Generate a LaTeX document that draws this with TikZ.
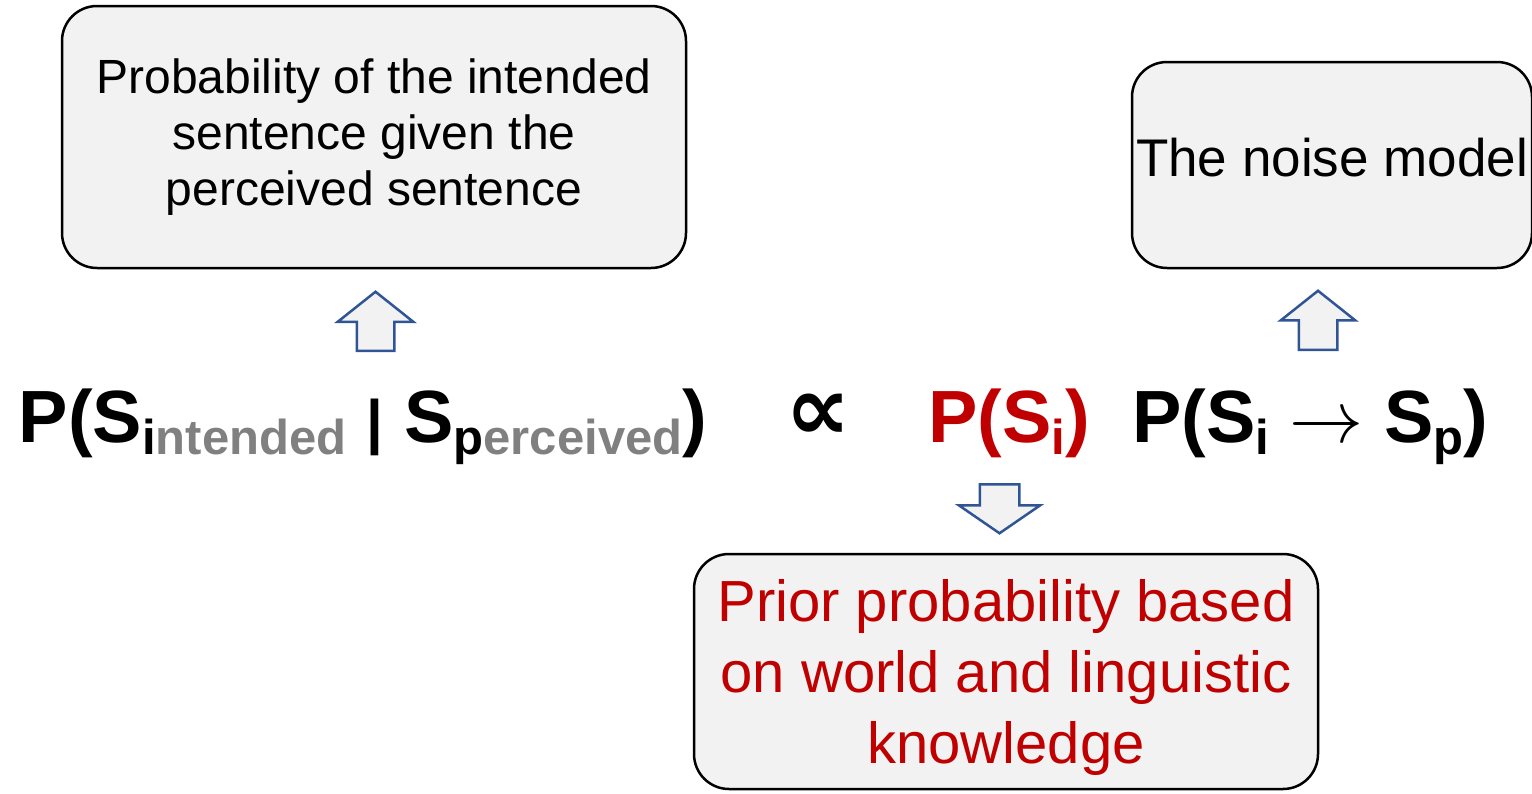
\documentclass[tikz,border=0pt]{standalone}
\usepackage{fix-cm}
\usepackage{fontspec}
\setmainfont{Liberation Sans}
\newfontfamily\symfont{DejaVu Sans}
\usepackage{xcolor}
\usetikzlibrary{shapes.arrows,positioning}

\definecolor{darkred}{HTML}{C00000}
\definecolor{subgray}{HTML}{808080}
\definecolor{boxgray}{HTML}{F2F2F2}
\definecolor{arrowblue}{HTML}{2F5597}
\newcommand{\bigtext}{\fontsize{74}{80}\selectfont\bfseries}
\newcommand{\lowsub}[1]{\raisebox{-12pt}{\fontsize{49}{49}\selectfont #1}}

\begin{document}
\begin{tikzpicture}[
    x=1pt, y=-1pt,
    box/.style={rectangle, draw=black, fill=boxgray, line width=2.5pt, rounded corners=35pt, align=center, inner sep=0pt},
    formula/.style={anchor=base, inner sep=0pt, font=\bigtext},
    bigarrow/.style={single arrow, draw=arrowblue, fill=boxgray, line width=2.5pt, inner xsep=0pt, single arrow tip angle=103}
]
    \useasboundingbox (0,0) rectangle (1532,793);

    % the formula
    \node [formula] (post) at (363,442) {P(S\lowsub{i\textcolor{subgray}{ntended}} {\fontsize{60}{60}\selectfont|} S\lowsub{p\textcolor{subgray}{erceived}})};
    \node [formula, font={\symfont\bfseries\fontsize{92}{92}\selectfont}] (prop) at (818,440) {∝};
    \node [formula, text=darkred] (prior) at (1009,442) {P(S\lowsub{i})};
    \node [formula] (noise) at (1310,442) {P(S\lowsub{i} $\rightarrow$ S\lowsub{p})};

    % explanation boxes
    \node [box, minimum width=624, minimum height=262, font=\fontsize{48}{56}\selectfont] (postbox) at (374,137) {Probability of the intended\\sentence given the\\perceived sentence};
    \node [box, minimum width=400, minimum height=206, text depth=16pt, font=\fontsize{53}{60}\selectfont] (noisebox) at (1332,165) {The noise model};
    \node [box, minimum width=624, minimum height=235, text depth=0pt, text=darkred, font=\fontsize{58}{71}\selectfont] (priorbox) at (1006,671.5) {Prior probability based\\on world and linguistic\\knowledge};

    % block arrows
    \node [bigarrow, rotate=90, minimum height=59, inner ysep=17.5pt, single arrow head extend=19, anchor=tail] (up1) at (375.5,352) {};
    \node [bigarrow, rotate=90, minimum height=59, inner ysep=18pt, single arrow head extend=18, anchor=tail] (up2) at (1318,351) {};
    \node [bigarrow, rotate=-90, minimum height=49, inner ysep=18.5pt, single arrow head extend=21, single arrow tip angle=111, anchor=tail] (down) at (999.5,483) {};
\end{tikzpicture}
\end{document}
